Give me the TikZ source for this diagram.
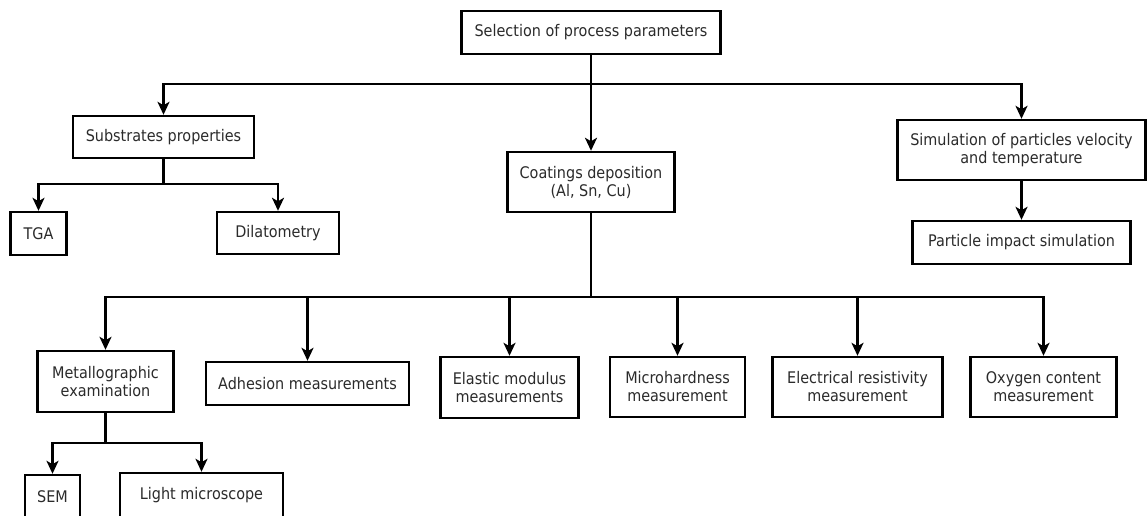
\documentclass[tikz,border=0pt]{standalone}
\usepackage{fontspec}
\setmainfont[FakeStretch=0.9]{DejaVu Sans}
\usetikzlibrary{arrows.meta}
\definecolor{txt}{HTML}{2B2B2B}
\tikzset{
  box/.style={draw=black, line width=2.4pt, rectangle, inner sep=0pt, align=center,
    text=txt, font=\fontsize{16}{18}\selectfont},
  conn/.style={line width=2.4pt, draw=black},
  arr/.style={conn, -{Stealth[length=13pt,width=12pt,inset=3.5pt]}}
}
\begin{document}
\begin{tikzpicture}[x=1pt,y=-1pt]
\useasboundingbox[fill=white] (0,0) rectangle (1148,516);
% nodes
\node[box, minimum width=259pt, minimum height=43pt] (sel) at (591,32.5) {Selection of process parameters};
\node[box, minimum width=181pt, minimum height=42pt] (sub) at (163.5,137) {Substrates properties};
\node[box, minimum width=56pt, minimum height=43pt] (tga) at (38.5,233.5) {TGA};
\node[box, minimum width=122pt, minimum height=42pt] (dil) at (278,233) {Dilatometry};
\node[box, minimum width=167pt, minimum height=60pt] (coat) at (591,182) {Coatings deposition\\(Al, Sn, Cu)};
\node[box, minimum width=248pt, minimum height=60pt] (sim) at (1021.5,150) {Simulation of particles velocity\\and temperature};
\node[box, minimum width=218pt, minimum height=43pt] (part) at (1021.5,242.5) {Particle impact simulation};
\node[box, minimum width=136pt, minimum height=61pt] (met) at (105.5,381.5) {Metallographic\\examination};
\node[box, minimum width=203pt, minimum height=43pt] (adh) at (307.5,383.5) {Adhesion measurements};
\node[box, minimum width=138pt, minimum height=61pt] (ela) at (509.5,387.5) {Elastic modulus\\measurements};
\node[box, minimum width=135pt, minimum height=60pt] (mic) at (677.5,387) {Microhardness\\measurement};
\node[box, minimum width=170pt, minimum height=60pt] (ele) at (857.5,387) {Electrical resistivity\\measurement};
\node[box, minimum width=146pt, minimum height=60pt] (oxy) at (1043.5,387) {Oxygen content\\measurement};
\node[box, minimum width=55pt, minimum height=43pt] (sem) at (52.5,496.5) {SEM};
\node[box, minimum width=163pt, minimum height=45pt] (lm) at (201.5,495.5) {Light microscope};
% junctions
\coordinate (j1) at (591,84);
\coordinate (j2) at (163.5,184);
\coordinate (j3) at (591,297);
\coordinate (j4) at (105.5,443);
% connectors
\draw[conn] (sel.south) -- (j1);
\draw[arr] (j1) -- (coat.north);
\draw[arr] (j1) -| (sub.north);
\draw[arr] (j1) -| (sim.north);
\draw[conn] (sub.south) -- (j2);
\draw[arr] (j2) -| (tga.north);
\draw[arr] (j2) -| (dil.north);
\draw[arr] (sim.south) -- (part.north);
\draw[conn] (coat.south) -- (j3);
\draw[arr] (j3) -| (met.north);
\draw[arr] (j3) -| (adh.north);
\draw[arr] (j3) -| (ela.north);
\draw[arr] (j3) -| (mic.north);
\draw[arr] (j3) -| (ele.north);
\draw[arr] (j3) -| (oxy.north);
\draw[conn] (met.south) -- (j4);
\draw[arr] (j4) -| (sem.north);
\draw[arr] (j4) -| (lm.north);
\end{tikzpicture}
\end{document}
